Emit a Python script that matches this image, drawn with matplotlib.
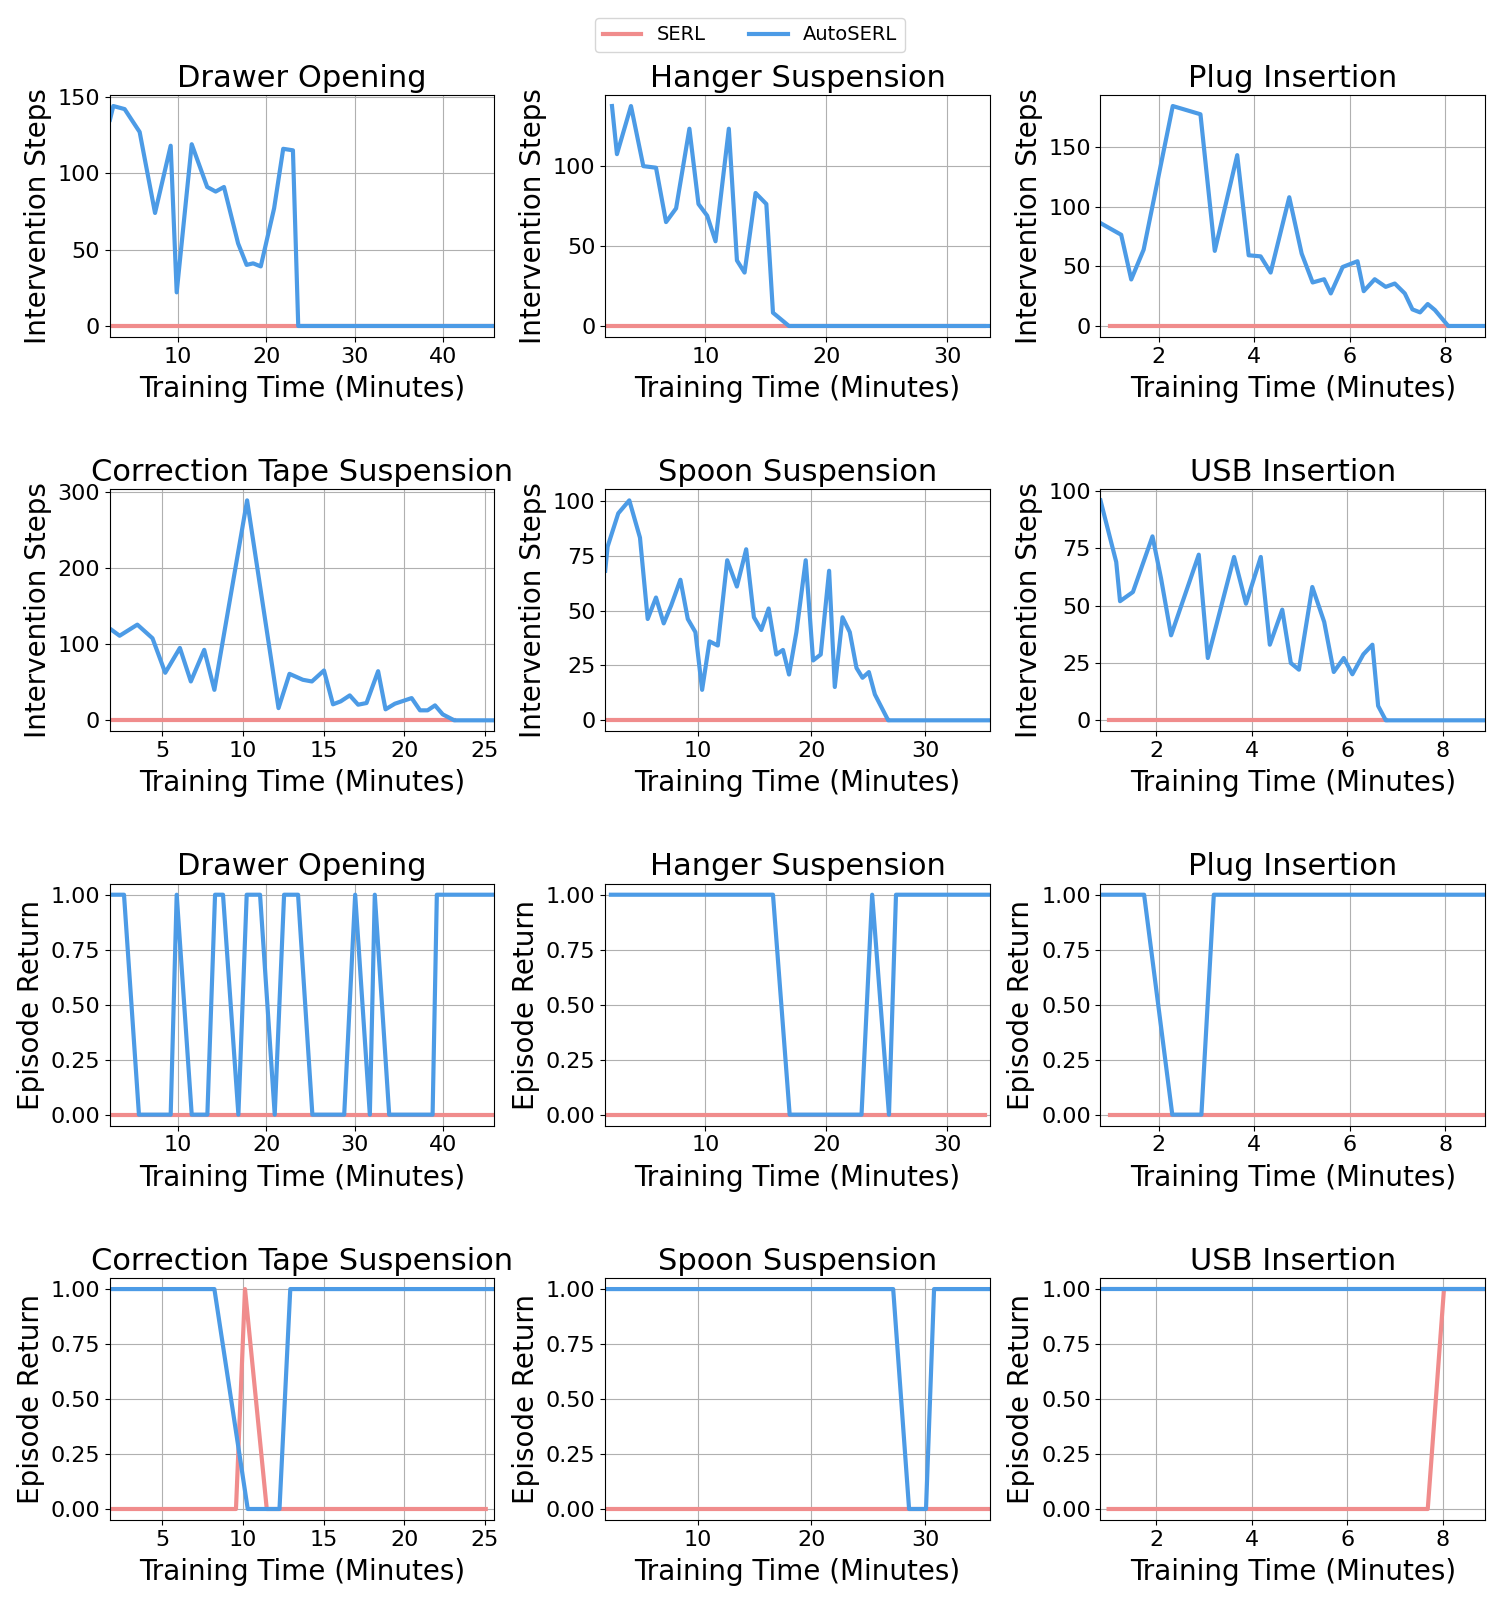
import matplotlib
matplotlib.use("Agg")
import matplotlib.pyplot as plt
from matplotlib.lines import Line2D

SERL_COLOR = "#F08C8C"
AUTO_COLOR = "#4C9BE6"

titles = ["Drawer Opening", "Hanger Suspension", "Plug Insertion",
          "Correction Tape Suspension", "Spoon Suspension", "USB Insertion"]

# ---------- Intervention steps (AutoSERL) ----------
drawer_int_t = [2.3, 2.68, 3.96, 5.66, 7.4, 9.17, 9.85, 11.55, 13.3, 14.26, 15.2, 16.8,
                17.76, 18.5, 19.36, 20.87, 21.9, 23.0, 23.6, 45.8]
drawer_int_v = [135, 144, 142, 127, 74, 118, 22, 119, 91, 88, 91, 54,
                40, 41, 39, 77, 116, 115, 0, 0]

hanger_int_t = [2.27, 2.68, 3.84, 4.86, 5.91, 6.74, 7.57, 8.67, 9.42, 10.14, 10.83, 11.93,
                12.6, 13.23, 14.14, 15.03, 15.58, 16.9, 33.5]
hanger_int_v = [137.6, 107.5, 137.6, 100, 99, 65, 73.6, 123.4, 76.3, 69, 53, 123.4,
                41, 33.4, 83.2, 76.3, 8.3, 0, 0]

plug_int_t = [0.776, 1.21, 1.42, 1.68, 2.29, 2.87, 3.17, 3.64, 3.88, 4.13, 4.34, 4.73,
              4.99, 5.22, 5.46, 5.6, 5.85, 6.16, 6.29, 6.52, 6.75, 6.94, 7.15, 7.31,
              7.47, 7.63, 7.78, 8.06, 8.83]
plug_int_v = [86.3, 76.5, 39, 64, 184.5, 177.6, 63, 143.3, 59.3, 58.4, 44.8, 108,
              60.7, 36.5, 39.2, 27.3, 49.5, 54.3, 29.2, 39.2, 32.8, 35.6, 27.3, 13.9,
              11.4, 18.4, 13.4, 0, 0]

tape_int_t = [1.85, 2.34, 3.44, 4.38, 5.17, 6.08, 6.76, 7.59, 8.22, 10.25, 12.2, 12.88,
              13.71, 14.27, 15.02, 15.58, 16.06, 16.62, 17.14, 17.66, 18.38, 18.84, 19.42,
              20.46, 20.98, 21.45, 21.91, 22.39, 23.1, 25.6]
tape_int_v = [118.6, 111, 125.6, 107.7, 62.4, 95, 51, 92.5, 40, 288.7, 16, 61,
              53.2, 51, 65.4, 21, 24.9, 32.7, 20.5, 22.7, 64.5, 14.4, 21.8,
              29.2, 13.1, 13.1, 19.6, 7.8, 0, 0]

spoon_int_t = [1.85, 2.06, 3.0, 3.97, 4.91, 5.59, 6.32, 7.0, 7.65, 8.47, 9.12, 9.79, 10.38,
               11.03, 11.76, 12.59, 13.44, 14.26, 14.94, 15.59, 16.24, 16.91, 17.5, 18.03,
               18.68, 19.5, 20.15, 20.82, 21.56, 22.06, 22.74, 23.38, 23.97, 24.5, 25.06,
               25.59, 26.76, 35.7]
spoon_int_v = [68.2, 79.2, 94.4, 100.3, 83.3, 46.2, 56, 44.2, 52.3, 64.1, 46.2, 40.2, 13.9,
               36, 34.1, 73, 61, 78, 47, 41.2, 51, 30, 32.1, 20.9,
               40.2, 73, 27.3, 30, 68.2, 15.2, 47, 40.2, 23.9, 19.4, 22,
               11.8, 0, 0]

usb_int_t = [0.83, 1.16, 1.24, 1.51, 1.92, 2.1, 2.31, 2.89, 3.08, 3.43, 3.63, 3.88, 4.19,
             4.38, 4.64, 4.82, 4.99, 5.27, 5.52, 5.72, 5.93, 6.11, 6.34, 6.53, 6.65, 6.81, 8.89]
usb_int_v = [96, 69.1, 52, 56, 80.3, 61.9, 37.1, 72.3, 27.2, 55.3, 71.3, 50.9, 71.3,
             33, 48.3, 25, 22.1, 58.2, 42.9, 21.1, 27.2, 20.1, 28.8, 33, 6.3, 0, 0]

# ---------- Intervention steps (SERL) ----------
drawer_int_serl_t = [2.3, 45.8]
drawer_int_serl_v = [0, 0]
hanger_int_serl_t = [1.71, 33.0]
hanger_int_serl_v = [0, 0]
plug_int_serl_t = [0.98, 8.06]
plug_int_serl_v = [0, 0]
tape_int_serl_t = [1.74, 23.1]
tape_int_serl_v = [0, 0]
spoon_int_serl_t = [1.85, 26.76]
spoon_int_serl_v = [0, 0]
usb_int_serl_t = [1.0, 6.81]
usb_int_serl_v = [0, 0]

# ---------- Episode return (AutoSERL) ----------
drawer_ret_t = [2.3, 3.89, 5.58, 9.17, 9.85, 11.55, 13.32, 14.19, 15.09, 16.83, 17.77, 19.28,
                20.94, 22.0, 23.58, 25.2, 28.8, 30.04, 31.7, 32.26, 33.89, 38.8, 39.28, 45.8]
drawer_ret_v = [1, 1, 0, 0, 1, 0, 0, 1, 1, 0, 1, 1,
                0, 1, 1, 0, 0, 1, 0, 1, 0, 0, 1, 1]

hanger_ret_t = [2.18, 15.58, 16.96, 22.9, 23.78, 25.17, 25.75, 33.5]
hanger_ret_v = [1, 1, 0, 0, 1, 0, 1, 1]

plug_ret_t = [0.776, 1.69, 2.28, 2.89, 3.15, 8.83]
plug_ret_v = [1, 1, 0, 0, 1, 1]

tape_ret_t = [1.85, 8.22, 10.29, 12.26, 12.93, 25.6]
tape_ret_v = [1, 1, 0, 0, 1, 1]

spoon_ret_t = [1.85, 27.2, 28.6, 30.09, 30.8, 35.7]
spoon_ret_v = [1, 1, 0, 0, 1, 1]

usb_ret_t = [0.83, 8.89]
usb_ret_v = [1, 1]

# ---------- Episode return (SERL) ----------
drawer_ret_serl_t = [2.3, 45.8]
drawer_ret_serl_v = [0, 0]
hanger_ret_serl_t = [1.71, 33.07]
hanger_ret_serl_v = [0, 0]
plug_ret_serl_t = [0.98, 8.83]
plug_ret_serl_v = [0, 0]
tape_ret_serl_t = [1.74, 9.56, 10.12, 11.47, 25.06]
tape_ret_serl_v = [0, 0, 1, 0, 0]
spoon_ret_serl_t = [1.85, 35.6]
spoon_ret_serl_v = [0, 0]
usb_ret_serl_t = [1.0, 7.69, 8.03, 8.89]
usb_ret_serl_v = [0, 0, 1, 1]

int_auto = [(drawer_int_t, drawer_int_v), (hanger_int_t, hanger_int_v), (plug_int_t, plug_int_v),
            (tape_int_t, tape_int_v), (spoon_int_t, spoon_int_v), (usb_int_t, usb_int_v)]
int_serl = [(drawer_int_serl_t, drawer_int_serl_v), (hanger_int_serl_t, hanger_int_serl_v),
            (plug_int_serl_t, plug_int_serl_v), (tape_int_serl_t, tape_int_serl_v),
            (spoon_int_serl_t, spoon_int_serl_v), (usb_int_serl_t, usb_int_serl_v)]
ret_auto = [(drawer_ret_t, drawer_ret_v), (hanger_ret_t, hanger_ret_v), (plug_ret_t, plug_ret_v),
            (tape_ret_t, tape_ret_v), (spoon_ret_t, spoon_ret_v), (usb_ret_t, usb_ret_v)]
ret_serl = [(drawer_ret_serl_t, drawer_ret_serl_v), (hanger_ret_serl_t, hanger_ret_serl_v),
            (plug_ret_serl_t, plug_ret_serl_v), (tape_ret_serl_t, tape_ret_serl_v),
            (spoon_ret_serl_t, spoon_ret_serl_v), (usb_ret_serl_t, usb_ret_serl_v)]

fig, axes = plt.subplots(4, 3, figsize=(15, 16), dpi=100)
fig.subplots_adjust(left=0.0733, right=0.99, top=0.9406, bottom=0.05,
                    hspace=0.63, wspace=0.288)

LW = 3
for i in range(6):
    r, c = divmod(i, 3)
    # intervention
    ax = axes[r, c]
    ax.plot(*int_serl[i], color=SERL_COLOR, lw=LW)
    ax.plot(*int_auto[i], color=AUTO_COLOR, lw=LW)
    ax.set_ylabel("Intervention Steps", fontsize=20)
    # episode return
    ax2 = axes[r + 2, c]
    ax2.plot(*ret_serl[i], color=SERL_COLOR, lw=LW)
    ax2.plot(*ret_auto[i], color=AUTO_COLOR, lw=LW)
    ax2.set_ylabel("Episode Return", fontsize=20)
    ax2.set_yticks([0, 0.25, 0.5, 0.75, 1.0])
    for a in (ax, ax2):
        a.set_title(titles[i], fontsize=22)
        a.set_xlabel("Training Time (Minutes)", fontsize=20, labelpad=6)
        a.margins(x=0)
        a.grid(True, color="#b0b0b0", lw=0.8)
        a.tick_params(labelsize=16)

handles = [Line2D([], [], color=SERL_COLOR, lw=LW), Line2D([], [], color=AUTO_COLOR, lw=LW)]
fig.legend(handles, ["SERL", "AutoSERL"], loc="upper center", ncol=2,
           bbox_to_anchor=(0.5, 0.995), fontsize=14, columnspacing=2.2)

fig.savefig("out.png", dpi=100)
